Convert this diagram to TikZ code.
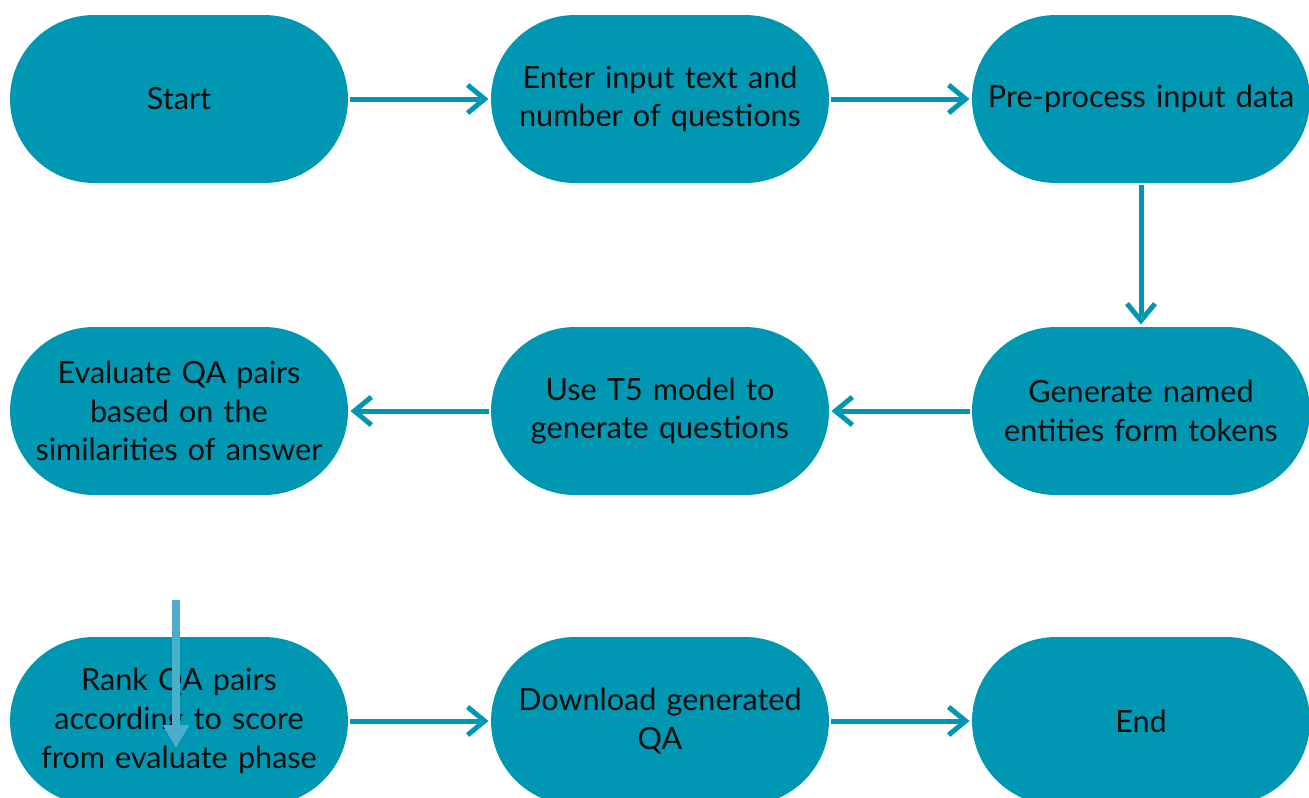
\documentclass[tikz,border=0pt]{standalone}
\usepackage{fontspec}
\setmainfont{Lato}
\usetikzlibrary{arrows.meta}
\definecolor{flowteal}{HTML}{0097B2}
\definecolor{paleteal}{HTML}{4DAECB}

\begin{document}
\begin{tikzpicture}[x=0.02cm,y=-0.02cm,-{Straight Barb[length=0.34cm,width=0.56cm]},line width=0.1cm,draw=flowteal,main node/.style={rectangle,rounded corners=1.68cm,fill=flowteal,draw=none,minimum width=6.76cm,minimum height=3.36cm,text width=6.6cm,align=center,inner sep=0pt,text=black!95,font=\fontsize{17.4}{22}\selectfont}]
  \useasboundingbox (0,0) rectangle (1309,798);
  \node[main node] (1) at (179,99) {Start};
  \node[main node] (2) at (660,99) {Enter input text and\\number of questions};
  \node[main node] (3) at (1141,99) {Pre-process input data};
  \node[main node] (4) at (179,411) {Evaluate QA pairs\\based on the\\similarities of answer};
  \node[main node] (5) at (660,411) {Use T5 model to\\generate questions};
  \node[main node] (6) at (1141,411) {Generate named\\entities form tokens};
  \node[main node] (7) at (179,721) {Rank QA pairs\\according to score\\from evaluate phase};
  \node[main node] (8) at (660,721) {Download generated\\QA};
  \node[main node] (9) at (1141,721) {End};
  \coordinate (a) at (176,600);
  \coordinate (b) at (176,748);

\path
  (1) edge (2)
  (2) edge (3)
  (3) edge (6)
  (6) edge (5)
  (5) edge (4)
  (7) edge (8)
  (8) edge (9)
;
  \draw[draw=paleteal,line width=0.16cm,-{Triangle[length=0.46cm,width=0.5cm]}] (a) -- (b);
\end{tikzpicture}
\end{document}
